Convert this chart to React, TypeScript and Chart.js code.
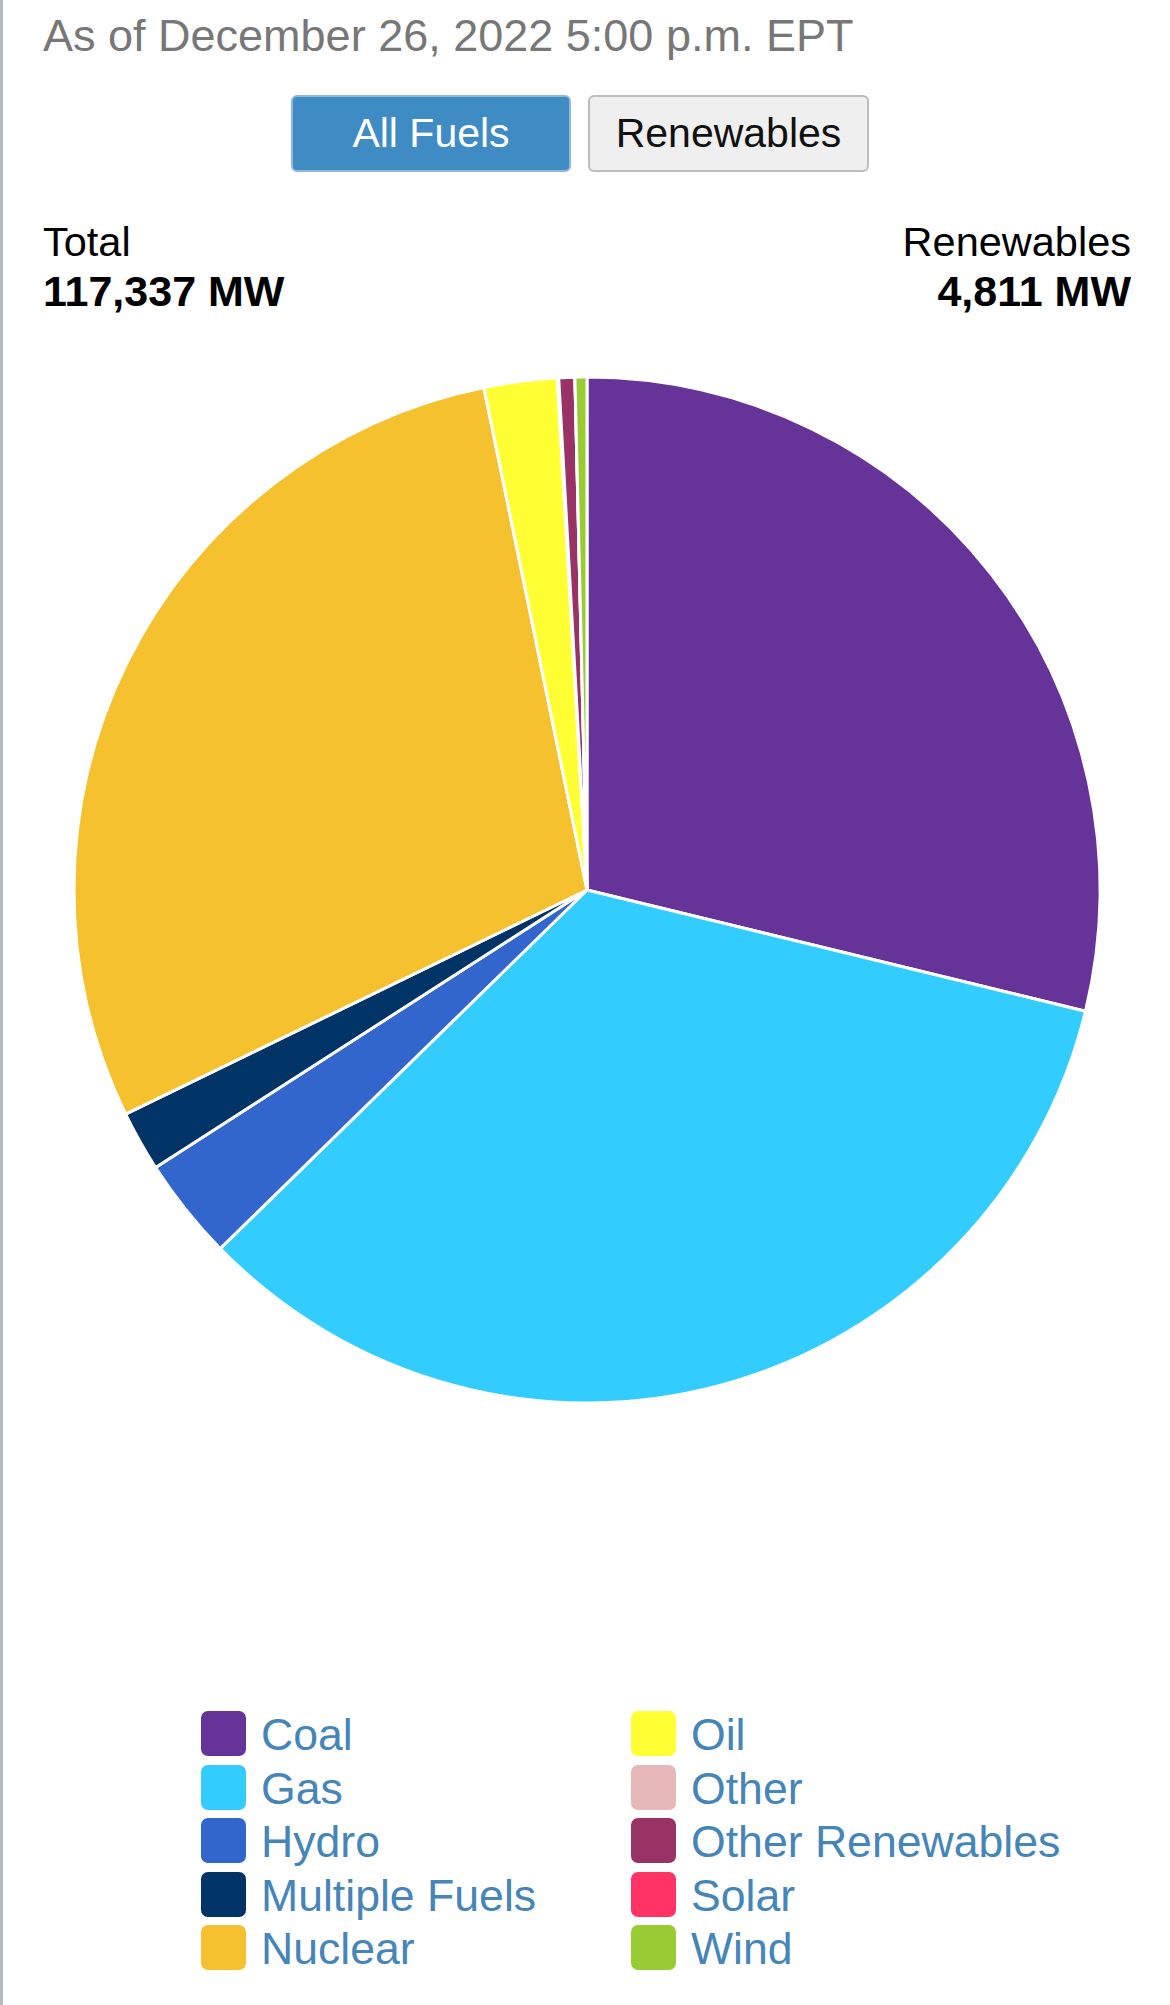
import React, { useEffect, useRef } from "react";
import { Chart, registerables } from "chart.js";

Chart.register(...registerables);

const fuels = [
  "Coal",
  "Gas",
  "Hydro",
  "Multiple Fuels",
  "Nuclear",
  "Oil",
  "Other",
  "Other Renewables",
  "Solar",
  "Wind",
];
const megawatts = [33790, 39756, 3780, 2230, 34000, 2700, 50, 590, 1, 440];
const fuelColors = [
  "#663399",
  "#33ccff",
  "#3366cc",
  "#003366",
  "#f5c12e",
  "#ffff33",
  "#e6b8b8",
  "#993366",
  "#ff3366",
  "#99cc33",
];
const headerText = "As of December 26, 2022 5:00 p.m. EPT";
const buttonLabels = ["All Fuels", "Renewables"];
const totalLabel = "Total";
const totalValue = "117,337 MW";
const renewLabel = "Renewables";
const renewValue = "4,811 MW";

const FONT = '"Liberation Sans", Arial, Helvetica, sans-serif';

export default function App() {
  const canvasRef = useRef<HTMLCanvasElement | null>(null);

  useEffect(() => {
    const canvas = canvasRef.current;
    if (!canvas) return;
    const chart = new Chart(canvas, {
      type: "pie",
      data: {
        labels: fuels,
        datasets: [
          {
            data: megawatts,
            backgroundColor: fuelColors,
            borderColor: "#ffffff",
            borderWidth: 3,
          },
        ],
      },
      options: {
        responsive: false,
        maintainAspectRatio: false,
        animation: false,
        radius: 513,
        layout: { padding: 0 },
        plugins: {
          legend: { display: false },
          tooltip: { enabled: false },
        },
      },
    });
    return () => chart.destroy();
  }, []);

  const rowPitch = 53.5;
  const legendTop = 1711;
  const columns = [
    { swatchX: 201, textX: 261 },
    { swatchX: 631, textX: 691 },
  ];

  return (
    <div
      style={{
        position: "absolute",
        left: 0,
        top: 0,
        width: 1170,
        height: 2005,
        background: "#ffffff",
        fontFamily: FONT,
        overflow: "hidden",
      }}
    >
      <div
        style={{
          position: "absolute",
          left: 0,
          top: 0,
          width: 3,
          height: 2005,
          background: "#b6babd",
        }}
      />
      <div
        style={{
          position: "absolute",
          left: 43,
          top: 13,
          fontSize: 45,
          lineHeight: "45px",
          color: "#777777",
          whiteSpace: "nowrap",
        }}
      >
        {headerText}
      </div>

      <div
        style={{
          position: "absolute",
          left: 291,
          top: 95,
          width: 280,
          height: 77,
          boxSizing: "border-box",
          background: "#3f8bc4",
          border: "2px solid #8fb8d9",
          borderRadius: 6,
          color: "#ffffff",
          fontSize: 41,
          lineHeight: "73px",
          textAlign: "center",
        }}
      >
        {buttonLabels[0]}
      </div>
      <div
        style={{
          position: "absolute",
          left: 588,
          top: 95,
          width: 281,
          height: 77,
          boxSizing: "border-box",
          background: "#efefef",
          border: "2px solid #bdbdbd",
          borderRadius: 6,
          color: "#111111",
          fontSize: 41,
          lineHeight: "73px",
          textAlign: "center",
        }}
      >
        {buttonLabels[1]}
      </div>

      <div
        style={{
          position: "absolute",
          left: 43,
          top: 221,
          fontSize: 41.5,
          lineHeight: "41.5px",
          color: "#000000",
          whiteSpace: "nowrap",
        }}
      >
        {totalLabel}
      </div>
      <div
        style={{
          position: "absolute",
          left: 43,
          top: 270,
          fontSize: 43,
          lineHeight: "43px",
          fontWeight: "bold",
          color: "#000000",
          whiteSpace: "nowrap",
        }}
      >
        {totalValue}
      </div>
      <div
        style={{
          position: "absolute",
          right: 39,
          top: 221,
          fontSize: 41.5,
          lineHeight: "41.5px",
          color: "#000000",
          whiteSpace: "nowrap",
          textAlign: "right",
        }}
      >
        {renewLabel}
      </div>
      <div
        style={{
          position: "absolute",
          right: 39,
          top: 270,
          fontSize: 43,
          lineHeight: "43px",
          fontWeight: "bold",
          color: "#000000",
          whiteSpace: "nowrap",
          textAlign: "right",
        }}
      >
        {renewValue}
      </div>

      <canvas
        ref={canvasRef}
        width={1174}
        height={1060}
        style={{
          position: "absolute",
          left: 0,
          top: 360,
          width: 1174,
          height: 1060,
        }}
      />

      {fuels.map((name, i) => {
        const col = columns[i < 5 ? 0 : 1];
        const row = i % 5;
        const top = legendTop + row * rowPitch;
        return (
          <React.Fragment key={name}>
            <div
              style={{
                position: "absolute",
                left: col.swatchX,
                top,
                width: 45,
                height: 45,
                borderRadius: 7,
                background: fuelColors[i],
              }}
            />
            <div
              style={{
                position: "absolute",
                left: col.textX,
                top: top + 2,
                fontSize: 44.6,
                lineHeight: "44px",
                color: "#4685b7",
                whiteSpace: "nowrap",
              }}
            >
              {name}
            </div>
          </React.Fragment>
        );
      })}
    </div>
  );
}
